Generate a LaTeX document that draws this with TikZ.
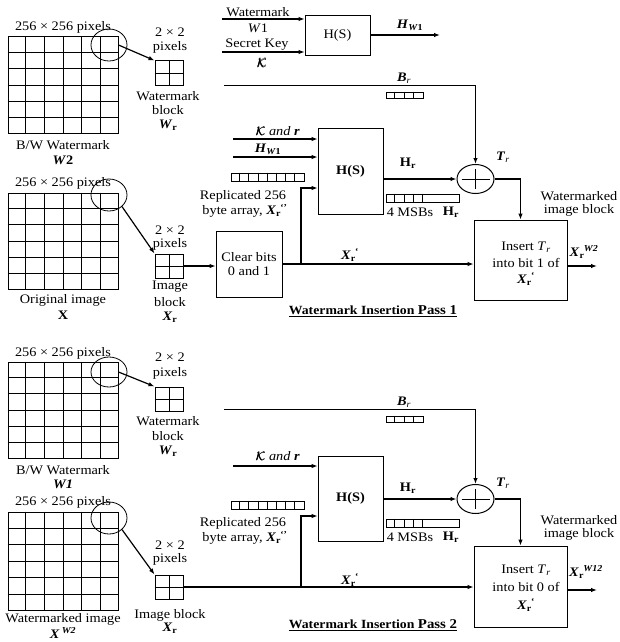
\documentclass[tikz,border=0pt]{standalone}
\usepackage{amsmath,amsbsy}
\usepackage{fontspec}
\setmainfont{Liberation Serif}[FakeStretch=1.1]
\usetikzlibrary{arrows.meta,shapes.geometric,calc}
\newcommand{\bX}{\textbf{\textit{X}}}
\newcommand{\Xr}{\bX\textsubscript{\textbf{r}}}
\newcommand{\Xrp}{\bX\textsubscript{\textbf{r}}\kern-0.05em\textsuperscript{\textbf{‘}}}
\newcommand{\Xrpp}{\bX\textsubscript{\textbf{r}}\kern-0.05em\textsuperscript{\textbf{‘’}}}
\newcommand{\XrW}[1]{\bX\textsubscript{\textbf{r}}\kern-0.05em\textsuperscript{\textbf{\textit{#1}}}}
\newcommand{\KK}{$\pmb{\mathcal{K}}$}
\newcommand{\HW}{\textbf{\textit{H}}\textsubscript{\textbf{\textit{W}1}}}
\newcommand{\Hr}{\textbf{H}\textsubscript{\textbf{r}}}
\newcommand{\Br}{\textbf{\textit{B}}\textsubscript{\textit{r}}}
\newcommand{\Tr}{\textbf{\textit{T}}\textsubscript{\textit{r}}}
\newcommand{\Wr}{\textbf{\textit{W}}\textsubscript{\textbf{r}}}
\newcommand{\mygrid}[5]{%
  \node[gridbox, minimum width=#4pt, minimum height=#5pt] (#1) at (#2,#3) {};
  \foreach \i in {1,...,5}{
    \draw[gl] ($(#1.north west)!\i/6!(#1.north east)$) -- ($(#1.south west)!\i/6!(#1.south east)$);
    \draw[gl] ($(#1.north west)!\i/6!(#1.south west)$) -- ($(#1.north east)!\i/6!(#1.south east)$);
  }}
\newcommand{\smallgrid}[3]{%
  \node[gridbox, minimum width=28pt, minimum height=24pt] (#1) at (#2,#3) {};
  \draw[gl] (#1.north) -- (#1.south) (#1.west) -- (#1.east);}
\newcommand{\bytearr}[7]{%
  \node[draw, line width=0.8pt, minimum width=#4pt, minimum height=#5pt] (#1) at (#2,#3) {};
  \foreach \i in {1,...,#7}{
    \draw[line width=0.8pt] ($(#1.north west)+(\i*#6,0)$) -- ($(#1.south west)+(\i*#6,0)$);
  }}
\begin{document}
\begin{tikzpicture}[x=1pt,y=-1pt,
  every node/.style={font=\fontsize{13}{14}\selectfont, inner sep=0pt},
  box/.style={draw, line width=0.8pt, rectangle},
  gridbox/.style={draw, line width=1pt, rectangle, inner sep=0pt},
  gl/.style={line width=1pt},
  conn/.style={line width=1.2pt,-{Latex[length=6pt,width=4.5pt]}},
  thinl/.style={line width=0.8pt},
  mag/.style={draw, ellipse, line width=0.8pt, inner sep=0pt, minimum width=36pt, minimum height=32pt},
  xorc/.style={draw, ellipse, line width=1pt, minimum width=37pt, minimum height=29pt, inner sep=0pt},
  title/.style={font=\fontsize{12.5}{14}\selectfont\bfseries}]
\useasboundingbox (0,0) rectangle (619,642);

% ================= Top hash =================
\node[box, minimum width=65pt, minimum height=40pt] (hT) at (337.5,35) {H(S)};
\coordinate (wmIn) at (222,19);
\coordinate (skIn) at (222,52);
\coordinate (hwOut) at (440,35);
\draw[conn] (wmIn) -- (wmIn -| hT.west);
\draw[conn] (skIn) -- (skIn -| hT.west);
\draw[conn] (hT.east) -- (hwOut);
\node at (258,12) {Watermark};
\node at (258,28) {\textit{W}1};
\node at (257,45) {Secret Key};
\node at (262,63) {\KK};
\node at (410,25) {\HW};

% ================= Pass 1 =================
\mygrid{gA}{63}{85}{110}{96}
\node[mag] (cA) at (109,45) {};
\smallgrid{sA}{169}{73}
\draw[conn] (gA.east |- cA.center) -- (sA.north west);
\node at (63,27) {256 × 256 pixels};
\node at (170,32) {2 × 2};
\node at (170,47) {pixels};
\node at (168,96) {Watermark};
\node at (168,110) {block};
\node at (168,125) {\Wr};
\node at (63,145) {B/W Watermark};
\node at (63,160) {\textbf{\textit{W}2}};

\mygrid{gB}{63}{241}{110}{96}
\node[mag] (cB) at (109,195) {};
\smallgrid{sB}{169}{266}
\draw[conn] (cB.south east) -- (sB.north west);
\node at (63,183) {256 × 256 pixels};
\node at (170,230) {2 × 2};
\node at (170,244) {pixels};
\node at (170,287) {Image};
\node at (170,302) {block};
\node at (170,317) {\Xr};
\node at (63,300) {Original image};
\node at (63,315) {\textbf{X}};

\node[box, minimum width=66pt, minimum height=66pt, align=center] (cb) at (249,264) {Clear bits\\0 and 1};
\draw[conn] (sB.east) -- (sB.east -| cb.west);

\node[box, minimum width=65pt, minimum height=86pt] (hA) at (350.5,171) {\textbf{H(S)}};
\coordinate (krA) at (233,139);
\coordinate (hwA) at (233,157);
\draw[conn] (krA) -- (krA -| hA.west);
\draw[conn] (hwA) -- (hwA -| hA.west);
\node at (278,131) {\KK\ \textit{and} \textbf{\textit{r}}};
\node at (268,149) {\HW};
\bytearr{aA}{267.5}{177}{73}{8}{9.125}{7}
\node at (243,196) {Replicated 256};
\node at (245,211) {byte array, \Xrpp};

\node[xorc] (xA) at (475.5,179) {};
\draw[line width=0.8pt] ($(xA.center)+(-14,0)$) -- ($(xA.center)+(14,0)$) ($(xA.center)+(0,-10)$) -- ($(xA.center)+(0,10)$);
\draw[conn] (hA.east |- xA.center) -- (xA.west);
\node at (408,163) {\Hr};
\bytearr{mA}{422.5}{198}{73}{8}{9.25}{4}
\node at (410,212) {4 MSBs};
\node at (451,212) {\Hr};

\coordinate (brA) at (224,85);
\draw[thinl] (brA) -- (brA -| xA.north);
\draw[conn] (brA -| xA.north) -- (xA.north);
\node at (404,78) {\Br};
\bytearr{bA}{404.5}{95}{37}{6}{9.25}{3}
\node at (503,157) {\Tr};

\node[box, minimum width=93pt, minimum height=80pt] (ibA) at (520.5,260) {};
\node at (526,247) {Insert \textit{T}\textsubscript{\textit{r}}};
\node at (526,263) {into bit 1 of};
\node at (526,279) {\Xrp};
\draw[conn] (xA.east) -| (ibA.north);
\coordinate (jA) at (301,264);
\draw[conn] (cb.east) -- (cb.east -| ibA.west);
\draw[conn] (jA) |- (hA.west |- 0,188);
\node at (350,255) {\Xrp};
\coordinate (oA) at (597,266);
\draw[conn] (ibA.east |- oA) -- (oA);
\node at (584,252) {\XrW{W2}};
\node at (579,196) {Watermarked};
\node at (579,210) {image block};
\node[title] at (373,311) {\underline{Watermark Insertion {\fontsize{13.5}{14}\selectfont Pass 1}}};

% ================= Pass 2 =================
\mygrid{gC}{63}{410}{110}{96}
\node[mag, minimum height=30pt] (cC) at (109,372) {};
\smallgrid{sC}{169}{399}
\draw[conn] (gC.east |- cC.center) -- (sC.north west);
\node at (63,353) {256 × 256 pixels};
\node at (170,357) {2 × 2};
\node at (170,373) {pixels};
\node at (168,421) {Watermark};
\node at (168,436) {block};
\node at (168,451) {\Wr};
\node at (63,470) {B/W Watermark};
\node at (63,484) {\textbf{\textit{W1}}};

\mygrid{gD}{63}{561}{110}{98}
\node[mag] (cD) at (109,518) {};
\smallgrid{sD}{169}{587}
\draw[conn] (cD.south east) -- (sD.north west);
\node at (63,502) {256 × 256 pixels};
\node at (170,545) {2 × 2};
\node at (170,559) {pixels};
\node at (170,615) {Image block};
\node at (170,628) {\Xr};
\node at (63,619) {Watermarked image};
\node at (63,633) {\bX\,\textsuperscript{\textbf{\textit{W2}}}};

\node[box, minimum width=65pt, minimum height=85pt] (hB) at (350.5,498.5) {\textbf{H(S)}};
\coordinate (krB) at (233,466);
\draw[conn] (krB) -- (krB -| hB.west);
\node at (278,456) {\KK\ \textit{and} \textbf{\textit{r}}};
\bytearr{aB}{267.5}{505}{73}{8}{9.125}{7}
\node at (243,523) {Replicated 256};
\node at (245,538) {byte array, \Xrpp};

\node[xorc] (xB) at (475.5,499) {};
\draw[line width=0.8pt] ($(xB.center)+(-14,0)$) -- ($(xB.center)+(14,0)$) ($(xB.center)+(0,-10)$) -- ($(xB.center)+(0,10)$);
\draw[conn] (hB.east |- xB.center) -- (xB.west);
\node at (408,488) {\Hr};
\bytearr{mB}{422.5}{523}{73}{8}{9.25}{4}
\node at (410,537) {4 MSBs};
\node at (451,537) {\Hr};

\coordinate (brB) at (224,409);
\draw[thinl] (brB) -- (brB -| xB.north);
\draw[conn] (brB -| xB.north) -- (xB.north);
\node at (404,402) {\Br};
\bytearr{bB}{404.5}{419}{37}{6}{9.25}{3}
\node at (503,483) {\Tr};

\node[box, minimum width=93pt, minimum height=81pt] (ibB) at (520.5,586.5) {};
\node at (526,570) {Insert \textit{T}\textsubscript{\textit{r}}};
\node at (526,587) {into bit 0 of};
\node at (526,605) {\Xrp};
\draw[conn] (xB.east) -| (ibB.north);
\coordinate (jB) at (301,587);
\draw[conn] (sD.east) -- (sD.east -| ibB.west);
\draw[conn] (jB) |- (hB.west |- 0,516);
\node at (350,580) {\Xrp};
\coordinate (oB) at (597,590);
\draw[conn] (ibB.east |- oB) -- (oB);
\node at (586,572) {\XrW{W12}};
\node at (579,520) {Watermarked};
\node at (579,534) {image block};
\node[title] at (373,625) {\underline{Watermark Insertion {\fontsize{13.5}{14}\selectfont Pass 2}}};
\end{tikzpicture}
\end{document}
